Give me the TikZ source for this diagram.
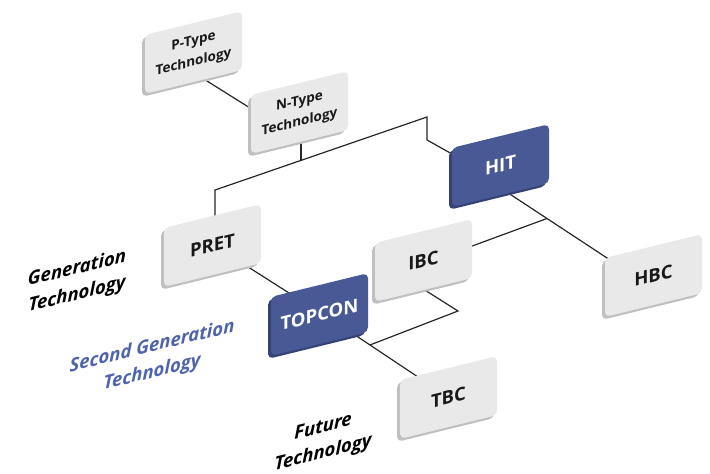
\documentclass[tikz,border=0pt]{standalone}
\usepackage{fontspec}
\setmainfont{Open Sans}
\usetikzlibrary{calc,backgrounds,shadows}
\definecolor{boxgray}{RGB}{233,233,233}
\definecolor{sidegray}{RGB}{192,192,192}
\definecolor{hitblue}{RGB}{72,89,150}
\definecolor{sideblue}{RGB}{52,66,118}
\definecolor{eratext}{RGB}{78,99,172}

\begin{document}
\begin{tikzpicture}[x=1pt, y=-1pt,
  every node/.style = {yslant=0.245, align=center},
  card/.style = {shape=rectangle, rounded corners=5pt, inner sep=0pt,
    minimum width=97pt, minimum height=59pt,
    font=\bfseries\fontsize{18.5}{21}\selectfont},
  tech/.style = {card, fill=boxgray, text=black!90,
    drop shadow={shadow xshift=-3pt, shadow yshift=-3pt, opacity=1, fill=sidegray}},
  hot/.style = {card, fill=hitblue, text=white,
    drop shadow={shadow xshift=-3pt, shadow yshift=-3pt, opacity=1, fill=sideblue}},
  small/.style = {font=\bfseries\fontsize{13.5}{21}\selectfont},
  era/.style = {font=\bfseries\itshape\fontsize{18.5}{26}\selectfont},
  link/.style = {draw=black!85, line width=1.2pt}]
  \useasboundingbox (0,0) rectangle (710,474);

  % boxes
  \node[tech, small] (ptype) at (193.5,52.5) {P-Type\\Technology};
  \node[tech, small] (ntype) at (299.5,112.5) {N-Type\\Technology};
  \node[tech] (pret) at (212.5,245.5) {PRET};
  \node[hot] (hit) at (500.5,165.5) {HIT};
  \node[tech] (ibc) at (423.5,260.5) {IBC};
  \node[hot] (topcon) at (319.5,314.5) {TOPCON};
  \node[tech] (tbc) at (448.5,397.5) {TBC};
  \node[tech] (hbc) at (653.5,275.5) {HBC};

  % side labels
  \node[era] (gen) at (77,282) {Generation\\Technology};
  \node[era, text=eratext] (second) at (152,360) {Second Generation\\Technology};
  \node[era] (future) at (323,441) {Future\\Technology};

  % links behind the boxes
  \begin{scope}[on background layer]
    \draw[link] ($(ptype)+(5.5,23.5)$) -- ($(ntype)+(-41.5,0.5)$);
    \coordinate (b1) at ($(pret)+(2.5,-55.5)$);
    \coordinate (b2) at ($(hit)+(-73.5,-48.5)$);
    \coordinate (j1) at ($(b1)!0.406!(b2)$);
    \draw[link] (j1 |- ntype) -- (j1);
    \draw[link] (b1 |- pret) -- (b1) -- (b2) -- ++(0,23) -- ($(hit)+(-30.5,-1.5)$);
    \draw[link] ($(hit)+(-7.5,17.5)$) -- coordinate[pos=0.425] (j2) ($(hbc)+(-33.5,-9)$);
    \draw[link] (j2) -- ($(ibc)+(36.5,-10)$);
    \draw[link] ($(topcon)+(20.5,10.5)$) -- coordinate[pos=0.333] (j3) ($(tbc)+(-18.5,-12.5)$);
    \draw[link] ($(ibc)+(-3.5,26.5)$) -- ($(ibc)+(34.5,50.5)$) -- (j3);
    \draw[link] ($(pret)+(25.5,15)$) -- ($(topcon)+(-19.5,-14.5)$);
  \end{scope}
\end{tikzpicture}
\end{document}
